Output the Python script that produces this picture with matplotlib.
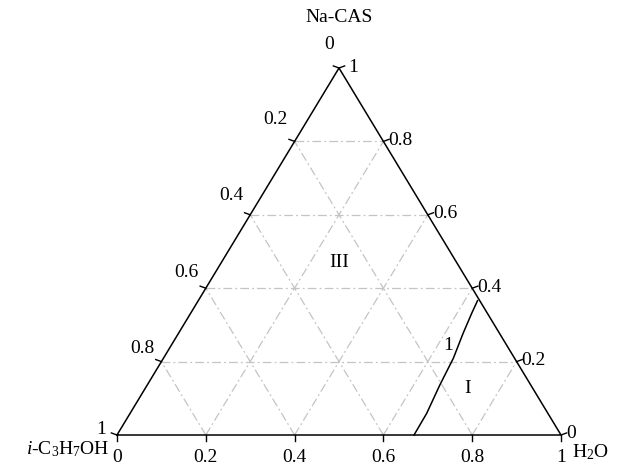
import matplotlib
matplotlib.use("Agg")
import matplotlib.pyplot as plt
import numpy as np

plt.rcParams['font.family'] = ['Liberation Serif', 'DejaVu Serif']
plt.rcParams['mathtext.fontset'] = 'custom'
plt.rcParams['mathtext.rm'] = 'Liberation Serif'
plt.rcParams['mathtext.it'] = 'Liberation Serif:italic'

# ---- data ----
apex_label = "Na-CAS"
left_label = r"$\mathit{i}$-C$_3$H$_7$OH"
right_label = r"H$_2$O"
tick_values = [0, 0.2, 0.4, 0.6, 0.8, 1]
grid_values = [0.2, 0.4, 0.6, 0.8]
tick_labels = ["0", "0.2", "0.4", "0.6", "0.8", "1"]

# phase boundary (mass fractions): H2O and Na-CAS
boundary_h2o = [0.669, 0.668, 0.659, 0.653, 0.641, 0.633, 0.629]
boundary_nacas = [0.000, 0.059, 0.136, 0.209, 0.277, 0.332, 0.366]

region_names = ["III", "I", "1"]
region_h2o = [0.265, 0.726, 0.623]
region_nacas = [0.469, 0.127, 0.245]


def tern(w, n):
    w = np.asarray(w, float)
    n = np.asarray(n, float)
    return w + n / 2.0, n


W, H = 620, 467
fig = plt.figure(figsize=(W / 100, H / 100), dpi=100)
ax = fig.add_axes([0, 0, 1, 1])
ax.axis('off')
x0p, x1p, ytopp, ybotp = 117, 561, 68, 435
sx = x1p - x0p
sy = ybotp - ytopp
ax.set_xlim(-x0p / sx, (W - x0p) / sx)
ax.set_ylim(-(H - ybotp) / sy, ybotp / sy)

def off(xy, dx, dy):
    """shift data point by pixel offset (dy positive = up)"""
    d = ax.transData.transform(xy)
    return ax.transData.inverted().transform((d[0] + dx, d[1] + dy))

grid_kw = dict(color='#c4c4c4', lw=0.9, ls=(0, (7, 2.5, 1.5, 2.5)), zorder=1)
for k in grid_values:
    # constant Na-CAS
    xs, ys = tern([0, 1 - k], [k, k])
    ax.plot(xs, ys, **grid_kw)
    # constant H2O
    xs, ys = tern([k, k], [0, 1 - k])
    ax.plot(xs, ys, **grid_kw)
    # constant i-C3H7OH
    xs, ys = tern([1 - k, 0], [0, 1 - k])
    ax.plot(xs, ys, **grid_kw)

# triangle
xs, ys = tern([0, 1, 0, 0], [0, 0, 1, 0])
ax.plot(xs, ys, color='black', lw=1.1, zorder=3, solid_joinstyle='miter')

fs = 14
tl = 6
for v, lab in zip(tick_values, tick_labels):
    # bottom axis: H2O fraction
    p = tern(v, 0)
    q = off(p, 0, -tl)
    ax.plot([p[0], q[0]], [p[1], q[1]], color='black', lw=1.0)
    ax.annotate(lab, xy=p, xytext=(0, -22), textcoords='offset pixels',
                ha='center', va='center', fontsize=fs)
    # left axis: i-C3H7OH fraction (Na-CAS = 1 - v on left edge)
    p = tern(0, 1 - v)
    a = np.deg2rad(160)
    q = off(p, tl * np.cos(a), tl * np.sin(a))
    ax.plot([p[0], q[0]], [p[1], q[1]], color='black', lw=1.0)
    if v == 0:
        dxy = (-10, 24)
    elif v == 1:
        dxy = (-16, 6)
    else:
        dxy = (-19, 25 - 15 * v)
    ax.annotate(lab, xy=p, xytext=dxy, textcoords='offset pixels',
                ha='center', va='center', fontsize=fs)
    # right axis: Na-CAS fraction
    p = tern(1 - v, v)
    a = np.deg2rad(20)
    q = off(p, tl * np.cos(a), tl * np.sin(a))
    ax.plot([p[0], q[0]], [p[1], q[1]], color='black', lw=1.0)
    dx = 9 if v == 1 else 5
    ax.annotate(lab, xy=p, xytext=(dx, 2 if v == 0 else 1), textcoords='offset pixels',
                ha='left', va='center', fontsize=fs)

# vertex names
ax.annotate(apex_label, xy=tern(0, 1), xytext=(0, 51), textcoords='offset pixels',
            ha='center', va='center', fontsize=fs)
ax.annotate(left_label, xy=tern(0, 0), xytext=(-7, -14), textcoords='offset pixels',
            ha='right', va='center', fontsize=fs)
ax.annotate(right_label, xy=tern(1, 0), xytext=(11, -17), textcoords='offset pixels',
            ha='left', va='center', fontsize=fs)

# boundary curve
bx, by = tern(boundary_h2o, boundary_nacas)
ax.plot(bx, by, color='black', lw=1.1, zorder=3)

for name, w, n in zip(region_names, region_h2o, region_nacas):
    x, y = tern(w, n)
    ax.text(x, y, name, ha='center', va='center', fontsize=fs)

fig.savefig("out.png", dpi=100)
